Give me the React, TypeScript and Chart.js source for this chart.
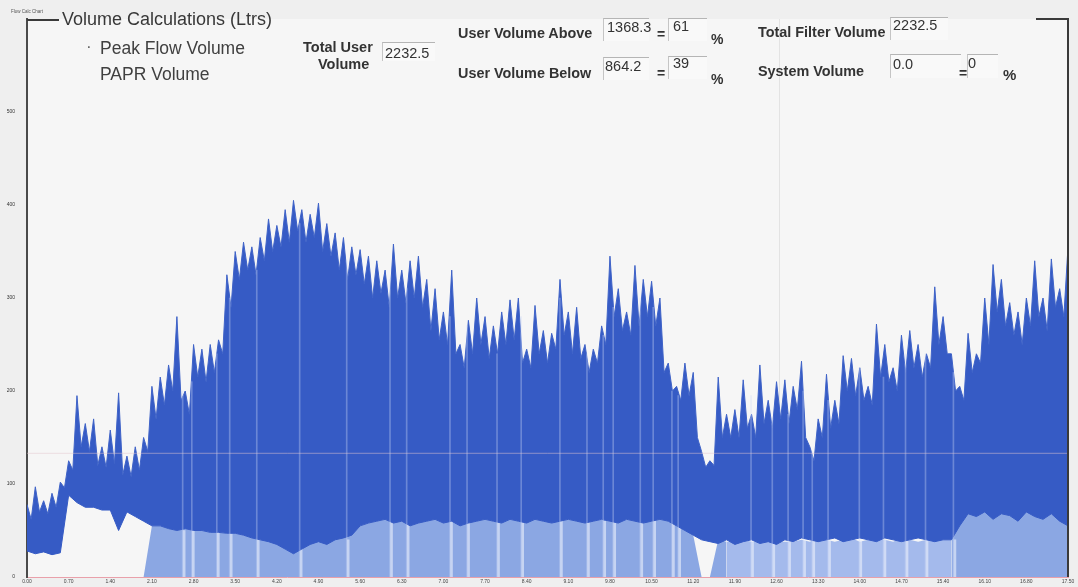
import React, { useEffect, useRef } from "react";
import { Chart, registerables } from "chart.js";

Chart.register(...registerables);

// x-axis tick labels (one per axis unit)
const X_TICK_LABELS = [
  "0.00", "0.70", "1.40", "2.10", "2.80", "3.50", "4.20", "4.90", "5.60", "6.30",
  "7.00", "7.70", "8.40", "9.10", "9.80", "10.50", "11.20", "11.90", "12.60", "13.30",
  "14.00", "14.70", "15.40", "16.10", "16.80", "17.50",
];
const Y_MAX = 600;
const Y_STEP = 100;

// Peak flow: upper edge of the dense trace, one sample every 0.1 axis units
const UPPER_STEP = 0.1;
const PEAK_UPPER = [
  78, 62, 97, 70, 82, 68, 90, 75, 102, 96,
  125, 115, 195, 140, 165, 135, 170, 120, 140, 118,
  158, 122, 198, 110, 130, 108, 140, 115, 150, 135,
  205, 170, 215, 185, 228, 200, 280, 190, 200, 175,
  250, 215, 245, 210, 250, 220, 255, 240, 325, 290,
  350, 320, 360, 330, 355, 325, 365, 340, 385, 350,
  378, 355, 395, 360, 405, 372, 395, 360, 390, 365,
  402, 350, 380, 345, 370, 330, 365, 320, 355, 325,
  352, 315, 345, 300, 340, 305, 330, 290, 358, 300,
  330, 295, 340, 300, 345, 290, 320, 265, 310, 255,
  285, 250, 330, 240, 250, 225, 276, 240, 300, 250,
  280, 235, 270, 240, 285, 250, 298, 255, 300, 230,
  245, 225, 292, 240, 265, 230, 262, 245, 320, 260,
  285, 240, 290, 235, 250, 220, 245, 230, 270, 250,
  345, 280, 310, 265, 285, 260, 335, 270, 320, 280,
  318, 270, 300, 220, 230, 200, 205, 190, 230, 195,
  220, 150, 135, 118, 125, 120, 215, 150, 175, 150,
  180, 150, 212, 160, 175, 150, 228, 165, 190, 160,
  210, 170, 212, 165, 205, 180, 232, 150, 140, 125,
  170, 150, 218, 160, 190, 165, 238, 200, 235, 195,
  225, 190, 205, 185, 272, 215, 250, 210, 225, 200,
  260, 220, 265, 225, 250, 215, 240, 225, 312, 250,
  280, 240, 240, 200, 205, 190, 262, 220, 240, 230,
  300, 250, 336, 285, 320, 270, 295, 260, 285, 250,
  300, 270, 340, 280, 300, 265, 342, 290, 310, 280,
  355,
];

// lower edge of the dense trace, one sample every 0.2 axis units
const LOWER_STEP = 0.2;
const PEAK_LOWER = [
  28, 25, 27, 24, 26, 88, 80, 75, 75, 72,
  72, 50, 70, 65, 60, 55, 55, 52, 50, 52,
  50, 50, 48, 48, 47, 47, 45, 42, 40, 38,
  35, 30, 25, 30, 35, 38, 35, 40, 42, 45,
  55, 58, 60, 62, 58, 60, 55, 58, 60, 62,
  58, 60, 55, 58, 60, 62, 60, 58, 62, 60,
  58, 62, 60, 58, 60, 62, 60, 58, 60, 62,
  60, 58, 62, 60, 58, 60, 62, 60, 55, 50,
  45, 40, 38, 36, 40, 35, 38, 40, 36, 38,
  35, 40, 38, 42, 40, 38, 40, 42, 38, 40,
  42, 40, 38, 42, 40, 38, 40, 42, 40, 38,
  40, 40, 55, 68, 65, 70, 62, 68, 66, 60,
  70, 65, 62, 68, 60, 55,
];

// PAPR volume (light fill), one sample every 0.2 axis units
const PAPR_STEP = 0.2;
const PAPR = [
  0, 0, 0, 0, 0, 0, 0, 0, 0, 0,
  0, 0, 0, 0, 0, 55, 55, 52, 50, 52,
  50, 50, 48, 48, 47, 47, 45, 42, 40, 40,
  38, 36, 35, 36, 38, 40, 40, 42, 44, 48,
  55, 58, 60, 62, 60, 60, 58, 60, 60, 62,
  60, 60, 58, 60, 60, 62, 60, 60, 62, 60,
  60, 62, 60, 60, 60, 62, 60, 60, 60, 62,
  60, 60, 62, 60, 60, 60, 62, 60, 58, 52,
  45, 0, 0, 40, 38, 38, 40, 38, 38, 40,
  38, 38, 38, 40, 38, 42, 40, 38, 40, 42,
  38, 40, 42, 40, 38, 42, 40, 38, 40, 42,
  40, 40, 66, 70, 68, 72, 66, 70, 68, 66,
  72, 68, 66, 70, 64, 60,
];
// stretch of the PAPR fill that is washed out (axis units)
const PAPR_PALE_FROM = 16.8;
const PAPR_PALE_TO = 22.3;

// dropouts: pale vertical streaks through the trace
const DROPOUT_X = [
  3.75, 3.97, 4.57, 4.88, 5.53, 6.56, 7.69, 8.73, 9.13, 10.17,
  10.58, 11.3, 11.88, 12.81, 13.46, 13.85, 14.09, 14.74, 15.05, 15.5,
  15.65, 17.4, 17.91, 18.29, 18.65, 18.87, 19.25, 20.0, 20.58, 21.11,
  21.59, 22.26,
];
const DROPOUT_BASE = [
  50, 50, 48, 47, 42, 36, 40, 60, 60, 60,
  60, 60, 60, 60, 60, 60, 60, 60, 60, 60,
  58, 40, 40, 40, 40, 40, 40, 40, 40, 40,
  40, 40,
];
const DROPOUT_TOP = [
  200, 210, 240, 300, 330, 380, 340, 320, 310, 280,
  270, 240, 280, 300, 240, 260, 290, 300, 290, 200,
  195, 195, 170, 175, 200, 135, 190, 225, 215, 240,
  240, 220,
];

const THRESHOLD = [133, 133];
const THRESHOLD_X = [0, 25];
const MARKER_X = 18.05;

const DARK = "#365bc5";
const LIGHT = "#8ba7e3";
const LIGHT_PALE = "#a4baec";

const labelFont = "Arial, 'Liberation Sans', sans-serif";

const framePlugin = {
  id: "frame",
  beforeDraw(chart: any) {
    const { ctx, chartArea: a, width, height } = chart;
    ctx.save();
    ctx.fillStyle = "#efefef";
    ctx.fillRect(0, 0, width, height);
    ctx.fillStyle = "#f6f6f6";
    ctx.fillRect(a.left, a.top, a.right - a.left, a.bottom - a.top);
    ctx.restore();
  },
  beforeDatasetsDraw(chart: any) {
    const { ctx, chartArea: a, scales } = chart;
    const x = scales.x.getPixelForValue(MARKER_X);
    ctx.save();
    ctx.strokeStyle = "rgba(160,160,160,0.22)";
    ctx.lineWidth = 1;
    ctx.beginPath();
    ctx.moveTo(Math.round(x) + 0.5, a.top);
    ctx.lineTo(Math.round(x) + 0.5, a.bottom);
    ctx.stroke();
    ctx.restore();
  },
  afterDraw(chart: any) {
    const { ctx, chartArea: a, scales } = chart;
    ctx.save();
    ctx.strokeStyle = "#3a3a3a";
    ctx.lineWidth = 2;
    ctx.beginPath();
    ctx.moveTo(a.right, a.top);
    ctx.lineTo(a.right, a.bottom);
    ctx.stroke();
    // x tick labels
    ctx.fillStyle = "#444";
    ctx.font = `5px ${labelFont}`;
    ctx.textAlign = "center";
    ctx.textBaseline = "middle";
    X_TICK_LABELS.forEach((lab, i) => {
      ctx.fillText(lab, scales.x.getPixelForValue(i), a.bottom + 5);
    });
    ctx.restore();
  },
};

const txt = (
  s: string,
  left: number,
  top: number,
  size: number,
  bold = false,
  color = "#333"
) => (
  <div
    style={{
      position: "absolute",
      left,
      top,
      fontSize: size,
      lineHeight: 1,
      fontWeight: bold ? 700 : 400,
      color,
      whiteSpace: "nowrap",
      fontFamily: labelFont,
    }}
  >
    {s}
  </div>
);

const box = (left: number, top: number, w: number, h: number) => (
  <div
    style={{
      position: "absolute",
      left,
      top,
      width: w,
      height: h,
      background: "#f9f9f9",
      borderTop: "1px solid #b5b5b5",
      borderLeft: "1px solid #c5c5c5",
    }}
  />
);

export default function App() {
  const ref = useRef<HTMLCanvasElement>(null);

  useEffect(() => {
    const pts = (arr: number[], step: number) => arr.map((v, i) => ({ x: i * step, y: v }));
    const chart = new Chart(ref.current as HTMLCanvasElement, {
      type: "line",
      data: {
        datasets: [
          {
            label: "Threshold",
            data: THRESHOLD.map((v, i) => ({ x: THRESHOLD_X[i], y: v })),
            borderColor: "rgba(230,200,208,0.5)",
            borderWidth: 1,
            pointRadius: 0,
            fill: false,
            order: 0,
          },
          {
            type: "bar",
            label: "Dropouts",
            data: DROPOUT_X.map((x, i) => ({ x, y: [0, DROPOUT_TOP[i]] })),
            backgroundColor: "rgba(205,218,247,0.35)",
            borderWidth: 0,
            barThickness: 1,
            order: 0.5,
          } as any,
          {
            label: "Peak Flow Volume",
            data: pts(PEAK_UPPER, UPPER_STEP),
            borderColor: "#3f63c8",
            backgroundColor: DARK,
            borderWidth: 1,
            pointRadius: 0,
            tension: 0,
            fill: 3,
            order: 1,
          },
          {
            label: "Peak Flow Lower",
            data: pts(PEAK_LOWER, LOWER_STEP),
            borderColor: DARK,
            borderWidth: 1,
            pointRadius: 0,
            tension: 0,
            fill: false,
            order: 2,
          },
          {
            type: "bar",
            label: "Dropouts (fill)",
            data: DROPOUT_X.map((x, i) => ({ x, y: DROPOUT_BASE[i] })),
            backgroundColor: "rgba(238,242,252,0.6)",
            borderWidth: 0,
            barThickness: 2,
            order: 3,
          } as any,
          {
            label: "PAPR Volume",
            data: pts(PAPR, PAPR_STEP),
            borderColor: "rgba(0,0,0,0)",
            backgroundColor: LIGHT,
            borderWidth: 0,
            pointRadius: 0,
            tension: 0,
            fill: "origin",
            order: 4,
            segment: {
              backgroundColor: (c: any) =>
                c.p0.parsed.x >= PAPR_PALE_FROM && c.p1.parsed.x <= PAPR_PALE_TO ? LIGHT_PALE : undefined,
            },
          } as any,
        ],
      },
      options: {
        animation: false,
        responsive: false,
        maintainAspectRatio: false,
        layout: { padding: { top: 19, right: 10, left: 0, bottom: 0 } },
        plugins: { legend: { display: false }, tooltip: { enabled: false } },
        scales: {
          x: {
            type: "linear",
            min: 0,
            max: X_TICK_LABELS.length - 1,
            offset: false,
            grid: { display: false },
            border: { color: "#e9a0aa", width: 1 },
            ticks: { display: false },
            afterFit: (s: any) => {
              s.height = 10;
            },
          },
          y: {
            min: 0,
            max: Y_MAX,
            grid: { display: false },
            border: { color: "#4a4a4a", width: 2 },
            ticks: {
              stepSize: Y_STEP,
              padding: 4,
              font: { size: 5, family: labelFont },
              color: "#333",
              callback: (v: any) => (Number(v) >= Y_MAX ? "" : String(v)),
            },
            afterFit: (s: any) => {
              s.width = 27;
            },
          },
        },
      },
      plugins: [framePlugin],
    });
    return () => chart.destroy();
  }, []);

  return (
    <div
      style={{
        position: "absolute",
        left: 0,
        top: 0,
        width: 1078,
        height: 587,
        overflow: "hidden",
        fontFamily: labelFont,
      }}
    >
      <canvas ref={ref} width={1078} height={587} style={{ display: "block" }} />
      {/* frame pieces of the group box */}
      <div style={{ position: "absolute", left: 27, top: 19, width: 32, height: 2, background: "#3a3a3a" }} />
      <div style={{ position: "absolute", left: 1036, top: 18, width: 33, height: 2, background: "#3a3a3a" }} />
      {txt("Flow Calc Chart", 11, 10, 4.5, false, "#555")}
      {txt("Volume Calculations (Ltrs)", 62, 10, 18, false, "#383838")}

      {txt("·", 86, 38, 17, false, "#666")}
      {txt("Peak Flow Volume", 100, 40, 17.5, false, "#404040")}
      {txt("PAPR Volume", 100, 66, 17.5, false, "#404040")}

      {txt("Total User", 303, 40, 14.5, true)}
      {txt("Volume", 318, 57, 14.5, true)}
      {box(382, 42, 52, 18)}
      {txt("2232.5", 385, 46, 14.5)}

      {txt("User Volume Above", 458, 26, 14.4, true)}
      {box(603, 18, 45, 22)}
      {txt("1368.3", 607, 20, 14.5)}
      {txt("=", 657, 27, 14, true)}
      {box(668, 18, 38, 22)}
      {txt("61", 673, 19, 14.5)}
      {txt("%", 711, 32, 14, true)}

      {txt("User Volume Below", 458, 66, 14.4, true)}
      {box(603, 57, 45, 22)}
      {txt("864.2", 605, 59, 14.5)}
      {txt("=", 657, 66, 14, true)}
      {box(668, 56, 38, 22)}
      {txt("39", 673, 56, 14.5)}
      {txt("%", 711, 72, 14, true)}

      {txt("Total Filter Volume", 758, 25, 14.4, true)}
      {box(890, 17, 57, 22)}
      {txt("2232.5", 893, 18, 14.5)}

      {txt("System Volume", 758, 64, 14.4, true)}
      {box(890, 54, 70, 23)}
      {txt("0.0", 893, 57, 14.5)}
      {txt("=", 959, 66, 14, true)}
      {box(967, 54, 30, 23)}
      {txt("0", 968, 56, 14.5)}
      {txt("%", 1003, 67, 15, true)}
    </div>
  );
}
